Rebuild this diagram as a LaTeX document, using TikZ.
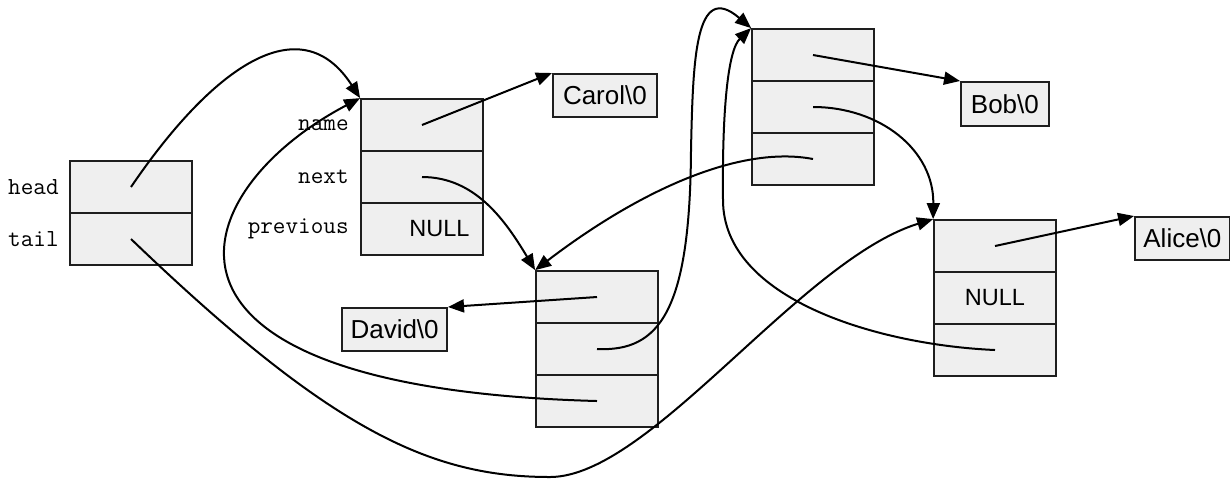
\documentclass[tikz,border=0pt]{standalone}
\usepackage{fontspec}
\setmainfont{Liberation Sans}
\usetikzlibrary{arrows.meta}
\definecolor{cellfill}{HTML}{EFEFEF}
\definecolor{edgecol}{HTML}{1E1E1E}

\begin{document}
\begin{tikzpicture}[x=0.5pt,y=-0.5pt,
  cell/.style={draw=edgecol, fill=cellfill, line width=0.9pt,
    minimum width=61pt, minimum height=26pt, inner sep=0pt},
  strbox/.style={draw=edgecol, fill=cellfill, line width=0.9pt,
    minimum height=21.5pt, inner sep=0pt, font=\fontsize{13}{15}\selectfont},
  fld/.style={font=\ttfamily\fontsize{12.25}{14}\selectfont, inner sep=0pt, anchor=east},
  nul/.style={font=\fontsize{11.75}{14}\selectfont, inner sep=0pt},
  ptr/.style={line width=1pt, -{Triangle[length=8pt,width=6.5pt]}},
]
\useasboundingbox (0,0) rectangle (1230,479);

% list object: head / tail
\node[cell] (ha) at (131,187) {};
\node[cell] (hb) at (131,239) {};
\node[fld] (lhead) at ([xshift=-5pt]ha.west) {head};
\node[fld] (ltail) at ([xshift=-5pt]hb.west) {tail};

% element holding Carol
\node[cell] (n1a) at (422,125) {};
\node[cell] (n1b) at (422,177) {};
\node[cell] (n1c) at (422,229) {};
\node[fld] (lname) at ([xshift=-5.5pt]n1a.west) {name};
\node[fld] (lnext) at ([xshift=-5.5pt]n1b.west) {next};
\node[fld] (lprev) at ([xshift=-5.5pt]n1c.west) {previous};
\node[nul, anchor=east] (null1) at ([xshift=-7pt]n1c.east) {NULL};

% element holding David
\node[cell] (n2a) at (597,297) {};
\node[cell] (n2b) at (597,349) {};
\node[cell] (n2c) at (597,401) {};

% element holding Bob
\node[cell] (n3a) at (813,55) {};
\node[cell] (n3b) at (813,107) {};
\node[cell] (n3c) at (813,159) {};

% element holding Alice
\node[cell] (n4a) at (995,246) {};
\node[cell, nul] (n4b) at (995,298) {NULL};
\node[cell] (n4c) at (995,350) {};

% the strings
\node[strbox, minimum width=52pt, anchor=north west] (carol) at (552,73) {Carol\textbackslash 0};
\node[strbox, minimum width=44pt, minimum height=22pt, anchor=north west] (bob) at (960,81) {Bob\textbackslash 0};
\node[strbox, minimum width=52.5pt, anchor=north east] (david) at (448,307) {David\textbackslash 0};
\node[strbox, minimum width=47.5pt, anchor=north west] (alice) at (1134,216) {Alice\textbackslash 0};

% name pointers
\draw[ptr] (n1a.center) -- (carol.north west);
\draw[ptr] (n2a.center) -- (david.north east);
\draw[ptr] (n3a.center) -- (bob.north west);
\draw[ptr] (n4a.center) -- (alice.north west);

% head and tail
\draw[ptr] (ha.center) .. controls (212,68) and (300,5) .. (n1a.north west);
\draw[ptr] (hb.center) .. controls (330,430) and (430,477) .. (550,477)
  .. controls (650,477) and (800,260) .. (n4a.north west);

% next pointers
\draw[ptr] (n1b.center) .. controls (475,177) and (505,220) .. (n2a.north west);
\draw[ptr] (n2b.center) .. controls (660,352) and (690,310) .. (691,150)
  .. controls (693,60) and (695,-20) .. (n3a.north west);
\draw[ptr] (n3b.center) .. controls (880,107) and (934,150) .. (n4a.north west);

% previous pointers
\draw[ptr] (n2c.center) .. controls (110,388) and (185,190) .. (n1a.north west);
\draw[ptr] (n3c.center) .. controls (740,145) and (640,190) .. (n2a.north west);
\draw[ptr] (n4c.center) .. controls (880,345) and (723,300) .. (723,200)
  .. controls (722,110) and (728,50) .. (n3a.north west);
\end{tikzpicture}
\end{document}
